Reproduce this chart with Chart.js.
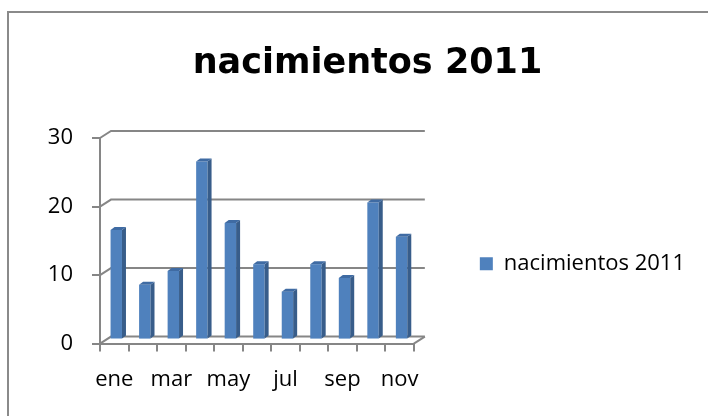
<!DOCTYPE html>
<html>
<head>
<meta charset="utf-8">
<script src="https://cdn.jsdelivr.net/npm/chart.js@4.4.1/dist/chart.umd.min.js"></script>
<style>
  html, body { margin: 0; padding: 0; background: #fff; }
  #wrap { position: relative; width: 708px; height: 416px; overflow: hidden; }
  #frame { position: absolute; left: 7px; top: 11px; width: 760px; height: 460px;
           border-left: 2px solid #8a8a8a; border-top: 2px solid #8a8a8a; }
  #myChart { position: absolute; left: 0; top: 0; }
</style>
</head>
<body>
<div id="wrap">
  <div id="frame"></div>
  <canvas id="myChart" width="708" height="416"></canvas>
</div>
<script>
// data
var months = ['ene', 'feb', 'mar', 'abr', 'may', 'jun', 'jul', 'ago', 'sep', 'oct', 'nov'];
var births = [16, 8, 10, 26, 17, 11, 7, 11, 9, 20, 15];
var yTicks = [0, 10, 20, 30];
var seriesName = 'nacimientos 2011';

var gridColor = '#868686';
var depthX = 11, depthY = 7;   // back wall offset
var barDx = 4, barDy = 3;      // bar depth

// back wall gridlines + side diagonals, like the excel 3d look
var wallPlugin = {
    id: 'wall',
    beforeDatasetsDraw: function(chart) {
        var ctx = chart.ctx, y = chart.scales.y, a = chart.chartArea;
        ctx.save();
        ctx.strokeStyle = gridColor;
        ctx.lineWidth = 2;
        yTicks.forEach(function(v) {
            var py = y.getPixelForValue(v);
            ctx.beginPath();
            ctx.moveTo(a.left, py);
            ctx.lineTo(a.left + depthX, py - depthY);
            ctx.lineTo(a.right + depthX, py - depthY);
            ctx.stroke();
        });
        var p0 = y.getPixelForValue(0);
        ctx.beginPath();
        ctx.moveTo(a.right, p0);
        ctx.lineTo(a.right + depthX, p0 - depthY);
        ctx.stroke();
        ctx.restore();
        // bars sit a bit behind the front plane
        ctx.save();
        ctx.translate(2, -4);
    },
    afterDatasetsDraw: function(chart) {
        var ctx = chart.ctx;
        chart.getDatasetMeta(0).data.forEach(function(bar) {
            var l = bar.x - bar.width / 2, r = bar.x + bar.width / 2;
            ctx.fillStyle = '#385d8a';
            ctx.beginPath();
            ctx.moveTo(r, bar.y);
            ctx.lineTo(r + barDx, bar.y - barDy);
            ctx.lineTo(r + barDx, bar.base - barDy);
            ctx.lineTo(r, bar.base);
            ctx.closePath();
            ctx.fill();
            ctx.fillStyle = '#3f6ba3';
            ctx.beginPath();
            ctx.moveTo(l, bar.y);
            ctx.lineTo(l + barDx, bar.y - barDy);
            ctx.lineTo(r + barDx, bar.y - barDy);
            ctx.lineTo(r, bar.y);
            ctx.closePath();
            ctx.fill();
        });
        ctx.restore();
    },
    afterLayout: function(chart) {
        // legend sits a little below the middle of the plot
        chart.legend.top += 23;
        chart.legend.bottom += 23;
    }
};

var ctx = document.getElementById('myChart');
var myChart = new Chart(ctx, {
    type: 'bar',
    data: {
        labels: months,
        datasets: [{
            label: seriesName,
            data: births,
            backgroundColor: '#4f81bd',
            borderWidth: 0,
            barPercentage: 0.4,
            categoryPercentage: 1,
            clip: false
        }]
    },
    options: {
        responsive: false,
        animation: false,
        layout: { padding: { left: 40, right: 13, top: 0, bottom: 8 } },
        plugins: {
            title: {
                display: true,
                text: seriesName,
                color: '#000',
                font: { family: 'DejaVu Sans', size: 35, weight: 'bold' },
                padding: { top: 43, bottom: 53 }
            },
            legend: {
                position: 'right',
                fullSize: false,
                maxWidth: 300,
                labels: {
                    boxWidth: 13, boxHeight: 13, color: '#000',
                    font: { family: 'Open Sans', size: 22 }
                }
            },
            tooltip: { enabled: false }
        },
        scales: {
            x: {
                grid: { offset: true, drawOnChartArea: false, tickLength: 8, color: gridColor, lineWidth: 2 },
                border: { color: gridColor, width: 2 },
                ticks: {
                    autoSkip: false, maxRotation: 0, padding: 15, color: '#000',
                    font: { family: 'Open Sans', size: 22 },
                    callback: function(v, i) { return i % 2 === 0 ? months[i] : ''; }
                }
            },
            y: {
                min: 0, max: 30,
                afterFit: function(s) { s.width = 60; },
                grid: { drawOnChartArea: false, tickLength: 8, color: gridColor, lineWidth: 2 },
                border: { color: gridColor, width: 2 },
                ticks: {
                    stepSize: 10, padding: 19, color: '#000',
                    font: { family: 'Open Sans', size: 22 }
                }
            },
            gap: {
                position: 'right',
                afterFit: function(s) { s.width = 56; },
                grid: { display: false },
                border: { display: false },
                ticks: { display: false }
            }
        }
    },
    plugins: [wallPlugin]
});
</script>
</body>
</html>
